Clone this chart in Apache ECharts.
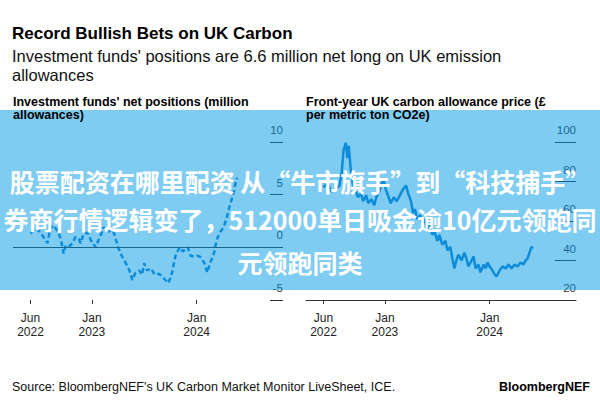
<!DOCTYPE html>
<html>
<head>
<meta charset="utf-8">
<script src="https://cdn.jsdelivr.net/npm/echarts@6/dist/echarts.min.js"></script>
<style>
html,body{margin:0;padding:0;background:#fff;}
#chart{width:600px;height:400px;}
</style>
</head>
<body>
<div id="chart"></div>
<script>
// ---- data ----
const leftDates = ['2022-06-01','2022-06-18','2022-07-02','2022-07-16','2022-07-30','2022-08-09','2022-08-20','2022-09-07','2022-09-17','2022-09-24','2022-10-02','2022-10-12','2022-10-19','2022-10-29','2022-11-05','2022-11-16','2022-11-23','2022-12-03','2022-12-17','2022-12-28','2023-01-07','2023-01-14','2023-01-24','2023-02-03','2023-02-10','2023-02-20','2023-03-03','2023-03-13','2023-03-23','2023-04-02','2023-04-15','2023-04-29','2023-05-12','2023-05-22','2023-06-02','2023-06-15','2023-06-25','2023-07-02','2023-07-12','2023-07-26','2023-08-08','2023-08-22','2023-09-04','2023-09-14','2023-09-24','2023-10-05','2023-10-11','2023-10-21','2023-11-04','2023-11-14','2023-11-24','2023-12-01','2023-12-11','2023-12-25','2024-01-04','2024-01-14','2024-01-28','2024-02-07','2024-02-17','2024-03-01','2024-03-11','2024-03-21','2024-04-04','2024-04-14','2024-04-24','2024-05-08','2024-05-18','2024-05-21'];
const leftValues = [1.3,1.8,1.5,1.0,0.4,1.8,2.1,1.4,0.5,-0.6,0.2,0.1,0.2,0.6,1.0,0.8,0.4,1.3,1.4,0.7,0.3,0.0,0.7,1.3,1.9,1.6,1.5,1.8,1.0,0.0,-0.8,-1.5,-2.2,-3.1,-2.4,-2.2,-2.6,-1.5,-2.2,-2.0,-2.6,-2.5,-2.8,-3.1,-3.4,-2.7,-1.9,-0.6,0.0,-0.4,-0.2,0.0,-0.8,-0.9,-0.8,-0.9,-1.5,-2.4,-1.5,-0.6,0.7,1.4,1.9,2.7,3.8,5.1,6.4,6.6];

const rightDates = ['2022-06-01','2022-06-15','2022-06-29','2022-07-13','2022-07-27','2022-08-03','2022-08-10','2022-08-18','2022-08-23','2022-08-28','2022-09-04','2022-09-11','2022-09-22','2022-09-29','2022-10-10','2022-10-17','2022-10-28','2022-11-04','2022-11-15','2022-11-25','2022-12-02','2022-12-13','2022-12-20','2022-12-27','2023-01-04','2023-01-14','2023-01-21','2023-02-01','2023-02-11','2023-02-22','2023-03-05','2023-03-16','2023-03-23','2023-04-02','2023-04-09','2023-04-16','2023-04-23','2023-05-04','2023-05-11','2023-05-18','2023-05-28','2023-06-08','2023-06-15','2023-06-22','2023-07-03','2023-07-10','2023-07-20','2023-07-31','2023-08-07','2023-08-17','2023-08-24','2023-08-31','2023-09-07','2023-09-14','2023-09-25','2023-10-05','2023-10-12','2023-10-19','2023-10-30','2023-11-06','2023-11-13','2023-11-23','2023-11-30','2023-12-11','2023-12-18','2023-12-25','2024-01-01','2024-01-11','2024-01-18','2024-01-25','2024-02-05','2024-02-15','2024-02-26','2024-03-07','2024-03-17','2024-03-28','2024-04-07','2024-04-18','2024-04-28','2024-05-05','2024-05-12','2024-05-19','2024-05-26','2024-05-30'];
const rightValues = [77,79,75,76,78,84,96,99.5,92,98,86,79,75,72,74,70,73,69,71,68,72,75,79,81,76,72,69,72,70,73,76,78,74,70,64,66,61,63,59,61,56,58,53,55,50,53,48,50,45,47,41,36,40,43,40,44,41,37,40,42,36,38,34,38,36,39,37,35,33,32,35,37,36,38,36,38,37,39,38,40,41,44,47,46];

const xTickDates = ['2022-06-01','2023-01-01','2024-01-01'];
const xTickLabels = ['Jun\n2022','Jan\n2023','Jan\n2024'];
const leftYTicks = [-5, 0, 5, 10];
const rightYTicks = [20, 40, 60, 80, 100];

const headline = 'Record Bullish Bets on UK Carbon';
const subLines = ["Investment funds' positions are 6.6 million net long on UK emission", 'allowances'];
const leftTitle = ["Investment funds' net positions (million", 'allowances)'];
const rightTitle = ['Front-year UK carbon allowance price (£', 'per metric ton CO2e)'];
const sourceText = "Source: BloombergNEF's UK Carbon Market Monitor LiveSheet, ICE.";
const brandText = 'BloombergNEF';
const bannerLines = ['股票配资在哪里配资 从“牛市旗手”到“科技捕手”', '券商行情逻辑变了，512000单日吸金逾10亿元领跑同', '元领跑同类'];

// ---- build ----
const t = s => +new Date(s + 'T00:00:00');
const leftData = leftDates.map((d, i) => [t(d), leftValues[i]]);
const rightData = rightDates.map((d, i) => [t(d), rightValues[i]]);
const tickTs = xTickDates.map(t);
const fmtX = v => { const i = tickTs.indexOf(v); return i >= 0 ? xTickLabels[i] : ''; };
const xMin = t('2022-04-01'), xMax = t('2024-10-28');
const FONT = '"Liberation Sans", Arial, sans-serif';
const CJK = '"Noto Sans CJK SC", sans-serif';
const lineColor = '#1a7ecb';
const ink = '#333';

function xAxisFor(grid, showLine) {
  return {
    type: 'value', gridIndex: grid, min: xMin, max: xMax, scale: true,
    axisLine: { show: showLine, onZero: false, lineStyle: { color: ink, width: 1 } },
    axisTick: { show: true, customValues: tickTs, length: 4, lineStyle: { color: ink } },
    axisLabel: { customValues: tickTs, formatter: fmtX, fontFamily: FONT, fontSize: 12, lineHeight: 14, color: '#222', margin: 11 },
    splitLine: { show: false }
  };
}
function yAxisFor(grid, ticks, tickLen) {
  return {
    type: 'value', gridIndex: grid, position: 'right',
    min: ticks[0], max: ticks[ticks.length - 1], interval: ticks[1] - ticks[0],
    axisLine: { show: false },
    axisTick: { show: true, inside: true, length: tickLen, lineStyle: { color: ink } },
    axisLabel: { inside: true, margin: 0, verticalAlign: 'bottom', padding: [0, 0, 6, 0], lineHeight: 12, fontFamily: FONT, fontSize: 11.5, color: ink },
    splitLine: { show: false }
  };
}
function txt(x, y, s, font, opts) {
  return { type: 'text', x: x, y: y, z: 101,
    style: Object.assign({ text: s, font: font, fill: '#000', textAlign: 'left', textVerticalAlign: 'middle' }, opts || {}) };
}

const chart = echarts.init(document.getElementById('chart'), null, { renderer: 'svg', width: 600, height: 400 });
chart.setOption({
  animation: false,
  backgroundColor: '#fff',
  grid: [
    { left: 13, top: 142, width: 270, height: 158 },
    { left: 306, top: 142, width: 270, height: 158 }
  ],
  xAxis: [xAxisFor(0, false), xAxisFor(1, true)],
  yAxis: [yAxisFor(0, leftYTicks, 13), yAxisFor(1, rightYTicks, 21)],
  series: [
    {
      type: 'line', xAxisIndex: 0, yAxisIndex: 0, data: leftData, showSymbol: false,
      lineStyle: { color: lineColor, width: 2.5, type: [5, 3] },
      markLine: { silent: true, symbol: 'none', label: { show: false },
        lineStyle: { color: ink, width: 1, type: 'solid' }, data: [{ yAxis: 0 }] }
    },
    {
      type: 'line', xAxisIndex: 1, yAxisIndex: 1, data: rightData, showSymbol: false,
      lineStyle: { color: lineColor, width: 2.5 }
    }
  ],
  graphic: [
    txt(12, 33, headline, 'bold 17px ' + FONT),
    txt(12, 56, subLines[0], '16.5px ' + FONT, { fill: '#111' }),
    txt(12, 75, subLines[1], '16.5px ' + FONT, { fill: '#111' }),
    txt(13, 102, leftTitle[0], 'bold 12.5px ' + FONT),
    txt(13, 114.5, leftTitle[1], 'bold 12.5px ' + FONT),
    txt(306, 102, rightTitle[0], 'bold 12.5px ' + FONT),
    txt(306, 114.5, rightTitle[1], 'bold 12.5px ' + FONT),
    txt(12, 387, sourceText, '12.5px ' + FONT, { fill: '#111' }),
    txt(590, 387, brandText, 'bold 12.5px ' + FONT, { textAlign: 'right' }),
    { type: 'rect', z: 100, shape: { x: 0, y: 110, width: 600, height: 180 }, style: { fill: 'rgba(0,153,231,0.5)' } },
    txt(300, 181, bannerLines[0], 'bold 25px ' + CJK, { fill: '#fff', textAlign: 'center' }),
    txt(300, 219, bannerLines[1], 'bold 25px ' + CJK, { fill: '#fff', textAlign: 'center' }),
    txt(300, 262, bannerLines[2], 'bold 25px ' + CJK, { fill: '#fff', textAlign: 'center' })
  ]
});
</script>
</body>
</html>
